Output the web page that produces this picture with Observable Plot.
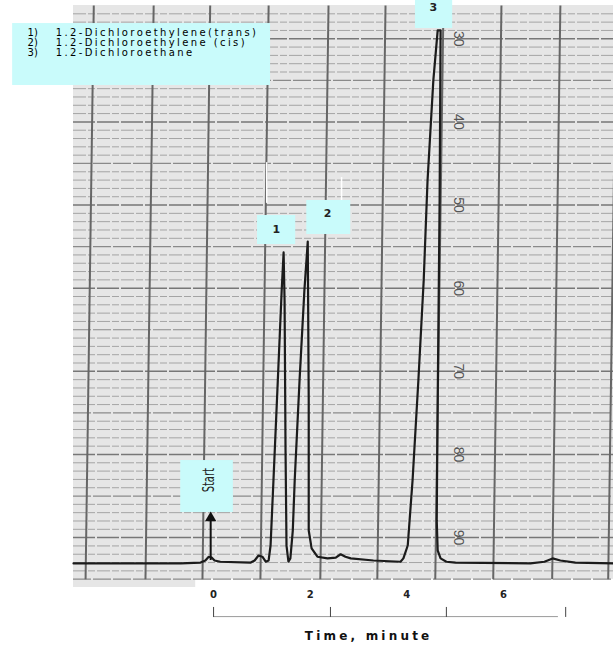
<!DOCTYPE html>
<html>
<head>
<meta charset="utf-8">
<script src="https://cdn.jsdelivr.net/npm/d3@7"></script>
<script src="https://cdn.jsdelivr.net/npm/@observablehq/plot@0.6"></script>
<style>
  html, body { margin: 0; padding: 0; background: #ffffff; }
  #chart svg { display: block; }
</style>
</head>
<body>
<div id="chart"></div>
<script>
// ---- Chromatogram trace: time (min) vs chart-paper reading (paper scale increases downward)
const traceTime = [-2.90,-0.68,-0.27,-0.17,-0.10,-0.04,0.02,0.14,0.77,0.85,0.93,1.01,1.08,1.14,1.18,1.24,1.33,1.41,1.45,1.47,1.49,1.51,1.55,1.59,1.64,1.68,1.78,1.88,1.95,1.97,1.97,2.03,2.15,2.36,2.53,2.63,2.73,2.84,3.31,3.87,3.93,4.02,4.12,4.24,4.35,4.43,4.55,4.64,4.70,4.68,4.64,4.62,4.64,4.70,4.82,5.01,6.56,6.85,7.02,7.18,7.49,8.28];
const traceReading = [93.1,93.1,93.0,92.75,92.3,92.4,92.75,92.9,93.0,92.75,92.15,92.3,92.9,92.75,90.95,83.1,71.1,60.3,55.7,61.5,79.5,90.95,92.9,92.5,89.15,83.1,71.1,60.3,54.4,73.5,89.15,91.3,92.3,92.5,92.4,92.0,92.3,92.5,92.75,92.9,92.5,90.95,83.1,71.1,59.1,47.05,35.0,29.0,29.0,49.45,73.5,87.9,91.55,92.5,92.9,93.0,93.1,92.9,92.5,92.75,93.0,93.1];

// ---- Chart paper
const paperX = [-2.9, 8.28];
const paperY = [26, 95.02];
const paperTabX = [-2.9, -0.37];
const paperTabY = [95.02, 96];
const paperMinorLines = d3.range(27, 96);                 // one line per paper unit
const paperScaleValues = [30, 40, 50, 60, 70, 80, 90];    // printed paper scale
const paperScaleLabelTime = 5.07;
const gridTopTime    = [-2.48,-1.24,-0.07,1.14,2.38,3.56,4.76,5.96,7.18,8.34];
const gridBottomTime = [-2.65,-1.41,-0.23,0.97,2.21,3.39,4.59,5.79,7.01,8.17];
const whiteMarksTime = [1.10, 2.65];
const whiteMarksTop = [44.9, 46.7];
const whiteMarksBottom = [49.8, 49.8];

// ---- Time axis
const timeTicks = [0, 2, 4, 6];
const scaleBarTicks = [0, 2.42, 4.82, 7.29];
const scaleBarEnd = 7.14;
const scaleBarReading = 99.5;
const timeTitle = "Time, minute";

// ---- Start marker
const startTime = -0.06;
const startFrom = 92.75;
const startTo = 87.2;

// ---- Peak labels and legend
const peakIds = ["1", "2", "3"];
const peakLabelTime = [1.30, 2.36, 4.55];
const peakLabelReading = [52.95, 51.05, 26.25];
const peakBoxX1 = [0.91, 1.93, 4.18];
const peakBoxX2 = [1.70, 2.84, 4.95];
const peakBoxY1 = [51.26, 49.45, 25.4];
const peakBoxY2 = [54.75, 53.54, 28.77];
const compoundNames = ["1.2-Dichloroethylene(trans)", "1.2-Dichloroethylene (cis)", "1.2-Dichloroethane"];
const legendReading = [29.25, 30.45, 31.65];

const trace = traceTime.map((t, i) => ({t, r: traceReading[i]}));
const cyan = "#c9fbfb";

const plot = Plot.plot({
  width: 613,
  height: 649,
  marginTop: 5,
  marginBottom: 62,
  marginLeft: 73,
  marginRight: 0,
  x: {domain: [-2.9, 8.28], axis: null},
  y: {domain: [26, 96], reverse: true, axis: null},
  style: {background: "#ffffff", fontFamily: "DejaVu Sans, sans-serif"},
  marks: [
    // paper
    Plot.rect([0], {x1: paperX[0], x2: paperX[1], y1: paperY[0], y2: paperY[1], fill: "#e6e6e6"}),
    Plot.rect([0], {x1: paperTabX[0], x2: paperTabX[1], y1: paperTabY[0], y2: paperTabY[1], fill: "#e6e6e6"}),
    Plot.ruleY(paperMinorLines.filter(v => v % 5 !== 0), {x1: paperX[0], x2: paperX[1], stroke: "#a4a4a4", strokeWidth: 1, strokeDasharray: "13,2,7,2"}),
    Plot.ruleY(paperMinorLines.filter(v => v % 5 === 0 && v % 10 !== 0), {x1: paperX[0], x2: paperX[1], stroke: "#8a8a8a", strokeWidth: 1.2, strokeDasharray: "18,2"}),
    Plot.ruleY(paperMinorLines.filter(v => v % 10 === 0), {x1: paperX[0], x2: paperX[1], stroke: "#777", strokeWidth: 1.5, strokeDasharray: "22,2"}),
    Plot.link(gridTopTime, {x1: d => d, y1: paperY[0], x2: (d, i) => gridBottomTime[i], y2: paperY[1], stroke: "#666", strokeWidth: 2}),
    Plot.ruleX(whiteMarksTime, {y1: (d, i) => whiteMarksTop[i], y2: (d, i) => whiteMarksBottom[i], stroke: "#ffffff", strokeWidth: 1.5}),
    Plot.text(paperScaleValues, {x: paperScaleLabelTime, y: d => d, text: d => String(d), rotate: 90, fontSize: 14, fill: "#555", fontFamily: "Liberation Sans, Arial, sans-serif"}),

    // chromatogram
    Plot.line(trace, {x: "t", y: "r", stroke: "#1b1b1b", strokeWidth: 2.2, strokeLinejoin: "round", curve: "linear"}),

    // start marker
    Plot.rect([0], {x1: -0.68, x2: 0.41, y1: 80.73, y2: 86.98, fill: cyan}),
    Plot.text(["Start"], {x: -0.10, y: 83.1, rotate: -90, fontSize: 13, fill: "#222", fontFamily: "DejaVu Sans Condensed, DejaVu Sans, sans-serif"}),
    Plot.ruleX([startTime], {y1: startFrom, y2: startTo + 0.6, stroke: "#111", strokeWidth: 2}),
    Plot.dot([startTime], {x: d => d, y: startTo + 0.45, symbol: "triangle", r: 4.2, fill: "#111", stroke: "none"}),

    // peak labels
    Plot.rect(peakIds, {x1: (d, i) => peakBoxX1[i], x2: (d, i) => peakBoxX2[i], y1: (d, i) => peakBoxY1[i], y2: (d, i) => peakBoxY2[i], fill: cyan}),
    Plot.text(peakIds, {x: (d, i) => peakLabelTime[i], y: (d, i) => peakLabelReading[i], text: d => d, fontSize: 11, fontWeight: "bold", fill: "#222"}),

    // legend
    Plot.rect([0], {x1: -4.16, x2: 1.18, y1: 28.17, y2: 35.62, fill: cyan}),
    Plot.text(peakIds, {x: -3.85, y: (d, i) => legendReading[i], text: d => d + ")", textAnchor: "start", fontSize: 10, fill: "#000"}),
    Plot.text(compoundNames, {x: -3.27, y: (d, i) => legendReading[i], text: d => d, textAnchor: "start", fontSize: 10, fill: "#000"}),

    // time axis
    Plot.axisX(timeTicks, {tickSize: 0, tickPadding: 3, fontSize: 10, fontWeight: "bold", fill: "#222", label: null}),
    Plot.ruleY([scaleBarReading], {x1: 0, x2: scaleBarEnd, stroke: "#9a9a9a", strokeWidth: 1}),
    Plot.ruleX(scaleBarTicks, {y1: 98.4, y2: 99.6, stroke: "#444", strokeWidth: 1}),
    Plot.text([timeTitle], {x: 3.21, y: 101.9, fontSize: 12, fontWeight: "bold", fill: "#111"})
  ]
});

const svg = d3.select(plot);
svg.selectAll("text").each(function() {
  const s = d3.select(this);
  const txt = this.textContent;
  if (compoundNames.includes(txt)) s.attr("letter-spacing", 2.4);
  if (txt === timeTitle) s.attr("letter-spacing", 3.2);
  if (txt === "Start") {
    const tr = s.attr("transform") || "";
    s.attr("transform", tr + " scale(0.85,1.25)");
  }
});

document.getElementById("chart").appendChild(plot);
</script>
</body>
</html>
